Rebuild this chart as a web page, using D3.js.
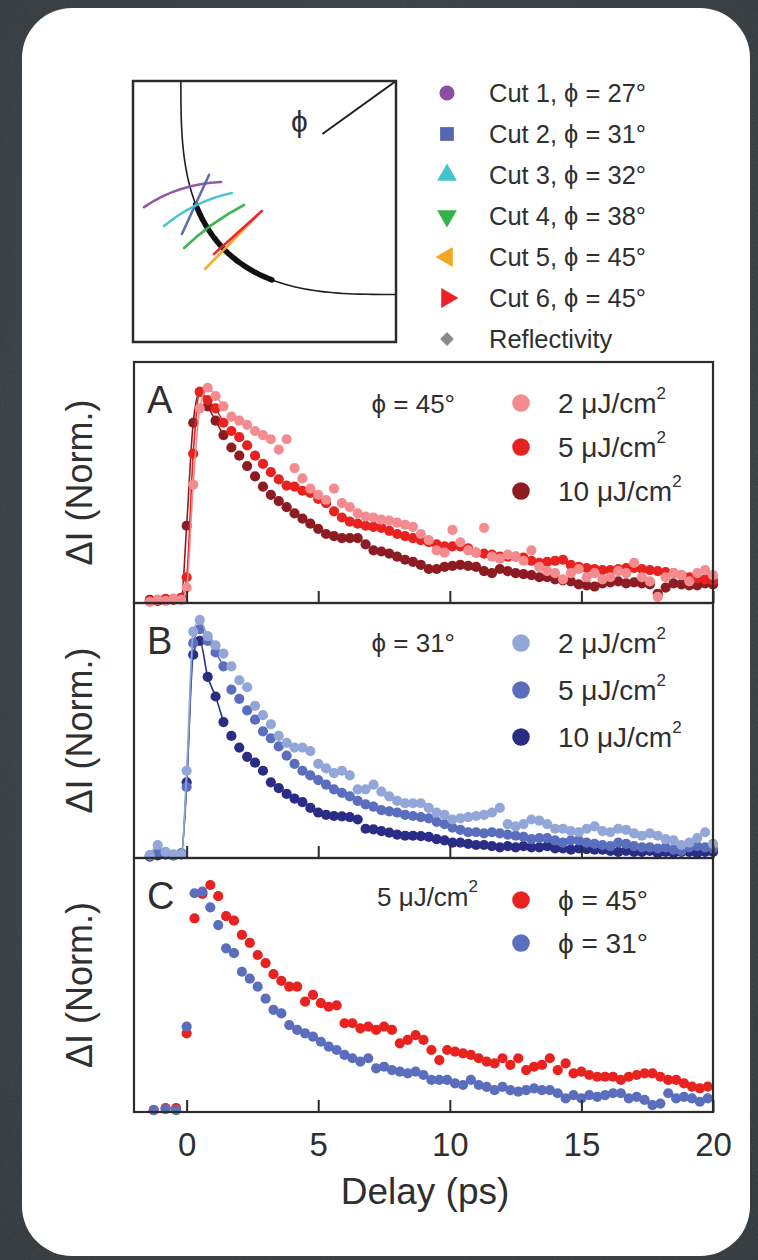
<!DOCTYPE html>
<html>
<head>
<meta charset="utf-8">
<script src="https://cdn.jsdelivr.net/npm/d3@7"></script>
<style>
  html, body { margin: 0; padding: 0; background: #394145; }
  svg { display: block; }
  text { font-family: "Liberation Sans", Arial, Helvetica, sans-serif; fill: #2f2f2f; }
</style>
</head>
<body>
<svg id="fig" width="758" height="1260"></svg>
<script>
// ---------------------------------------------------------------------------
// Data
// ---------------------------------------------------------------------------

// Pump-probe delays (ps) for the fluence series (panels A and B)
const delaysAB = [
  -1.4, -1.1, -0.8, -0.5, -0.2, 0, 0.25, 0.5,
  0.8, 1.1, 1.4, 1.7, 2.0, 2.3, 2.6, 2.9, 3.2, 3.5,
  3.8, 4.1, 4.4, 4.7, 5.0, 5.3, 5.6, 5.9, 6.2, 6.5,
  6.8, 7.1, 7.4, 7.7, 8.0, 8.3, 8.6, 8.9, 9.2, 9.5,
  9.8, 10.1, 10.4, 10.7, 11.0, 11.3, 11.6, 11.9, 12.2, 12.5,
  12.8, 13.1, 13.4, 13.7, 14.0, 14.3, 14.6, 14.9, 15.2, 15.5,
  15.8, 16.1, 16.4, 16.7, 17.0, 17.3, 17.6, 17.9, 18.2, 18.5,
  18.8, 19.1, 19.4, 19.7, 20.0
];

// Panel A: phi = 45 deg, normalised dI
const phi45_2uJ = [
  -0.02, -0.01, -0.015, -0.005, -0.01, 0.05, 0.55, 0.92,
  1.02, 0.98, 0.93, 0.88, 0.86, 0.84, 0.81, 0.79, 0.77, 0.72,
  0.77, 0.63, 0.58, 0.53, 0.50, 0.475, 0.53, 0.46, 0.44, 0.41,
  0.395, 0.39, 0.38, 0.375, 0.365, 0.355, 0.345, 0.31, 0.28, 0.23,
  0.22, 0.33, 0.27, 0.23, 0.22, 0.34, 0.20, 0.19, 0.21, 0.20,
  0.18, 0.23, 0.15, 0.13, 0.12, 0.09, 0.12, 0.14, 0.10, 0.12,
  0.09, 0.10, 0.13, 0.12, 0.17, 0.10, 0.08, 0.005, 0.10, 0.12,
  0.11, 0.08, 0.12, 0.135, 0.11
];
const phi45_5uJ = [
  -0.015, -0.01, -0.005, -0.01, 0.0, 0.10, 0.70, 1.0,
  0.96, 0.92, 0.85, 0.81, 0.78, 0.74, 0.69, 0.65, 0.61, 0.575,
  0.545, 0.54, 0.52, 0.51, 0.48, 0.46, 0.42, 0.39, 0.37, 0.36,
  0.35, 0.345, 0.34, 0.325, 0.31, 0.30, 0.29, 0.28, 0.27, 0.26,
  0.25, 0.25, 0.25, 0.24, 0.22, 0.215, 0.21, 0.20, 0.20, 0.20,
  0.195, 0.18, 0.17, 0.175, 0.18, 0.185, 0.16, 0.15, 0.145, 0.14,
  0.135, 0.135, 0.14, 0.145, 0.145, 0.14, 0.135, 0.13, 0.125, 0.12,
  0.11, 0.10, 0.095, 0.09, 0.085
];
const phi45_10uJ = [
  -0.01, -0.015, -0.01, -0.005, 0.0, 0.35, 0.85, 1.0,
  0.93, 0.86, 0.79, 0.73, 0.69, 0.64, 0.59, 0.54, 0.50, 0.47,
  0.44, 0.41, 0.385, 0.36, 0.335, 0.31, 0.30, 0.29, 0.29, 0.29,
  0.26, 0.23, 0.225, 0.215, 0.20, 0.185, 0.175, 0.16, 0.14, 0.14,
  0.15, 0.155, 0.16, 0.155, 0.15, 0.13, 0.12, 0.14, 0.13, 0.12,
  0.115, 0.11, 0.10, 0.10, 0.09, 0.085, 0.08, 0.065, 0.06, 0.055,
  0.07, 0.075, 0.08, 0.07, 0.075, 0.07, 0.065, 0.02, 0.05, 0.07,
  0.065, 0.06, 0.06, 0.07, 0.065
];

// Panel B: phi = 31 deg, normalised dI
const phi31_2uJ = [
  -0.015, 0.03, 0.0, -0.01, -0.01, 0.35, 0.95, 1.0,
  0.93, 0.89, 0.855, 0.80, 0.74, 0.71, 0.63, 0.59, 0.55, 0.50,
  0.47, 0.45, 0.45, 0.435, 0.38, 0.36, 0.34, 0.35, 0.33, 0.27,
  0.27, 0.29, 0.26, 0.24, 0.22, 0.21, 0.21, 0.21, 0.19, 0.17,
  0.16, 0.14, 0.145, 0.15, 0.155, 0.16, 0.17, 0.19, 0.12, 0.11,
  0.12, 0.14, 0.135, 0.12, 0.10, 0.10, 0.09, 0.085, 0.10, 0.11,
  0.09, 0.085, 0.10, 0.095, 0.08, 0.07, 0.08, 0.07, 0.055, 0.05,
  0.03, 0.04, 0.06, 0.085, 0.035
];
const phi31_5uJ = [
  -0.015, -0.005, -0.01, -0.015, -0.005, 0.28, 0.90, 0.96,
  0.91, 0.86, 0.80, 0.70, 0.66, 0.61, 0.57, 0.52, 0.49, 0.455,
  0.415, 0.38, 0.35, 0.33, 0.31, 0.29, 0.27, 0.255, 0.24, 0.22,
  0.205, 0.195, 0.18, 0.175, 0.17, 0.16, 0.155, 0.15, 0.145, 0.13,
  0.12, 0.105, 0.095, 0.085, 0.085, 0.08, 0.085, 0.08, 0.075, 0.07,
  0.065, 0.055, 0.06, 0.06, 0.05, 0.04, 0.05, 0.05, 0.04, 0.035,
  0.03, 0.025, 0.04, 0.035, 0.025, 0.02, 0.02, 0.015, 0.02, 0.01,
  0.005, 0.02, 0.025, 0.02, 0.015
];
const phi31_10uJ = [
  -0.02, -0.015, -0.01, -0.015, -0.01, 0.30, 0.85, 0.91,
  0.755, 0.67, 0.56, 0.50, 0.45, 0.41, 0.385, 0.35, 0.30, 0.275,
  0.25, 0.23, 0.215, 0.19, 0.17, 0.16, 0.155, 0.153, 0.15, 0.14,
  0.10, 0.097, 0.09, 0.083, 0.075, 0.07, 0.07, 0.068, 0.065, 0.055,
  0.05, 0.04, 0.04, 0.035, 0.03, 0.03, 0.025, 0.02, 0.025, 0.02,
  0.025, 0.02, 0.02, 0.025, 0.015, 0.015, 0.01, 0.015, 0.012, 0.01,
  0.01, 0.005, 0.0, 0.005, 0.0, 0.0, 0.005, -0.005, 0.0, -0.005,
  0.0, 0.0, -0.005, 0.0, 0.0
];

// Panel C: 5 uJ/cm^2, two cut angles
const delaysC = [
  -1.25, -0.8, -0.4,
  0, 0.3, 0.6, 0.9, 1.2, 1.5, 1.8, 2.1, 2.4, 2.7,
  3.0, 3.3, 3.6, 3.9, 4.2, 4.5, 4.8, 5.1, 5.4, 5.7,
  6.0, 6.3, 6.6, 6.9, 7.2, 7.5, 7.8, 8.1, 8.4, 8.7,
  9.0, 9.3, 9.6, 9.9, 10.2, 10.5, 10.8, 11.1, 11.4, 11.7,
  12.0, 12.3, 12.6, 12.9, 13.2, 13.5, 13.8, 14.1, 14.4, 14.7,
  15.0, 15.3, 15.6, 15.9, 16.2, 16.5, 16.8, 17.1, 17.4, 17.7,
  18.0, 18.3, 18.6, 18.9, 19.2, 19.5, 19.8
];
const fluence5_phi45 = [
  -0.01, 0.0, 0.0,
  0.335, 0.85, 0.96, 1.0, 0.95, 0.86, 0.84, 0.776, 0.74, 0.686,
  0.65, 0.60, 0.57, 0.544, 0.544, 0.477, 0.507, 0.47, 0.454, 0.46,
  0.38, 0.38, 0.357, 0.365, 0.35, 0.365, 0.35, 0.29, 0.305, 0.327,
  0.305, 0.26, 0.215, 0.26, 0.253, 0.245, 0.238, 0.223, 0.208, 0.20,
  0.223, 0.193, 0.223, 0.17, 0.185, 0.193, 0.223, 0.17, 0.20, 0.155,
  0.163, 0.148, 0.14, 0.14, 0.14, 0.126, 0.14, 0.148, 0.155, 0.155,
  0.14, 0.126, 0.126, 0.11, 0.096, 0.088, 0.096
];
const fluence5_phi31 = [
  -0.01, -0.005, -0.01,
  0.365, 0.963, 0.97, 0.90, 0.82, 0.716, 0.694, 0.611, 0.58, 0.544,
  0.49, 0.44, 0.424, 0.372, 0.35, 0.335, 0.32, 0.297, 0.275, 0.26,
  0.238, 0.223, 0.208, 0.223, 0.178, 0.185, 0.17, 0.163, 0.155, 0.163,
  0.148, 0.126, 0.126, 0.126, 0.11, 0.103, 0.126, 0.103, 0.095, 0.08,
  0.095, 0.08, 0.073, 0.08, 0.088, 0.08, 0.08, 0.066, 0.043, 0.058,
  0.043, 0.058, 0.05, 0.058, 0.066, 0.066, 0.043, 0.05, 0.036, 0.013,
  0.02, 0.066, 0.043, 0.05, 0.043, 0.028, 0.043
];

const xTicks = [0, 5, 10, 15, 20];
const fluenceLabels = ["2", "5", "10"];

// Cuts through the Fermi surface (inset, zone units 0..1, M point at (1,1))
const cutNames = ["Cut 1, ϕ = 27°", "Cut 2, ϕ = 31°", "Cut 3, ϕ = 32°", "Cut 4, ϕ = 38°",
                  "Cut 5, ϕ = 45°", "Cut 6, ϕ = 45°", "Reflectivity"];
const cutStart = [[0.042, 0.517], [0.186, 0.414], [0.118, 0.444], [0.194, 0.360], [0.274, 0.280], [0.308, 0.337]];
const cutEnd   = [[0.335, 0.613], [0.289, 0.640], [0.376, 0.571], [0.422, 0.525], [0.471, 0.483], [0.490, 0.502]];
const cutBend  = [0.022, 0.0, 0.018, 0.01, 0.0, 0.0];
const fermiRadius = 0.818;
const fermiExponent = 3;
const reflectivityArc = [26, 64]; // degrees along the contour

// ---------------------------------------------------------------------------
// Styling
// ---------------------------------------------------------------------------
const cutColors = ["#8c4fa3", "#5467b0", "#43c2cf", "#33b44a", "#f6a623", "#ec2028", "#8a8a8a"];
const redShades = ["#f48b8e", "#e8221f", "#8c1b22"];
const blueShades = ["#93a6d8", "#5a6ebd", "#2b2c86"];
const axisColor = "#2b2b2b";
const riseWindow = 1.4; // ps: the guide line follows the onset and peak only

const svg = d3.select("#fig");

// backdrop (grainy slate) and card
const defs = svg.append("defs");
const bg = defs.append("radialGradient").attr("id", "bg").attr("cx", "50%").attr("cy", "45%").attr("r", "75%");
bg.append("stop").attr("offset", "0%").attr("stop-color", "#42494d");
bg.append("stop").attr("offset", "100%").attr("stop-color", "#2f3538");
const grain = defs.append("filter").attr("id", "grain").attr("x", 0).attr("y", 0).attr("width", "100%").attr("height", "100%");
grain.append("feTurbulence").attr("type", "fractalNoise").attr("baseFrequency", 0.75).attr("numOctaves", 2).attr("seed", 3);
grain.append("feColorMatrix").attr("type", "matrix")
  .attr("values", "0 0 0 0 0.5  0 0 0 0 0.55  0 0 0 0 0.58  0 0 0 0.35 0");
svg.append("rect").attr("width", 758).attr("height", 1260).attr("fill", "url(#bg)");
svg.append("rect").attr("width", 758).attr("height", 1260).attr("filter", "url(#grain)").attr("opacity", 0.35);
svg.append("rect").attr("x", 22).attr("y", 8).attr("width", 728).attr("height", 1248)
  .attr("rx", 50).attr("fill", "#ffffff");

// ---------------------------------------------------------------------------
// Inset: Fermi surface with cut positions
// ---------------------------------------------------------------------------
const inset = { left: 133, right: 396, top: 81, bottom: 342 };
const kx = d3.scaleLinear().domain([0, 1]).range([inset.left, inset.right]);
const ky = d3.scaleLinear().domain([0, 1]).range([inset.bottom, inset.top]);
const gi = svg.append("g");

function contourPoint(deg) {
  const t = deg * Math.PI / 180;
  const c = Math.pow(Math.cos(t), 2 / fermiExponent);
  const s = Math.pow(Math.sin(t), 2 / fermiExponent);
  return [1 - fermiRadius * c, 1 - fermiRadius * s];
}
const contourLine = d3.line().x(d => kx(d[0])).y(d => ky(d[1])).curve(d3.curveBasis);
gi.append("path")
  .attr("d", contourLine(d3.range(0, 90.01, 1).map(contourPoint)))
  .attr("fill", "none").attr("stroke", "#1e1e1e").attr("stroke-width", 1.6);
gi.append("path")
  .attr("d", contourLine(d3.range(reflectivityArc[0], reflectivityArc[1] + 0.01, 1).map(contourPoint)))
  .attr("fill", "none").attr("stroke", "#111").attr("stroke-width", 5.5).attr("stroke-linecap", "round");

cutStart.forEach((p0, i) => {
  const p1 = cutEnd[i];
  const mx = (p0[0] + p1[0]) / 2, my = (p0[1] + p1[1]) / 2;
  const dx = p1[0] - p0[0], dy = p1[1] - p0[1];
  const len = Math.hypot(dx, dy);
  const cx = mx - dy / len * cutBend[i] * 2, cy = my + dx / len * cutBend[i] * 2;
  gi.append("path")
    .attr("d", `M${kx(p0[0])},${ky(p0[1])} Q${kx(cx)},${ky(cy)} ${kx(p1[0])},${ky(p1[1])}`)
    .attr("fill", "none").attr("stroke", cutColors[i]).attr("stroke-width", 2.6)
    .attr("stroke-linecap", "round").attr("opacity", 0.95);
});

// angle marker
gi.append("line")
  .attr("x1", kx(1)).attr("y1", ky(1)).attr("x2", kx(0.72)).attr("y2", ky(0.797))
  .attr("stroke", "#1e1e1e").attr("stroke-width", 2);
gi.append("text").attr("x", kx(0.633)).attr("y", ky(0.845)).attr("dy", "0.35em")
  .attr("text-anchor", "middle").style("font-size", "30px").text("ϕ");

gi.append("rect")
  .attr("x", inset.left).attr("y", inset.top)
  .attr("width", inset.right - inset.left).attr("height", inset.bottom - inset.top)
  .attr("fill", "none").attr("stroke", axisColor).attr("stroke-width", 2.5);

// symbol legend for the cuts
const symbolShapes = [
  { type: d3.symbolCircle, size: 180, rot: 0 },
  { type: d3.symbolSquare, size: 190, rot: 0 },
  { type: d3.symbolTriangle, size: 170, rot: 0 },
  { type: d3.symbolTriangle, size: 170, rot: 180 },
  { type: d3.symbolTriangle, size: 170, rot: -90 },
  { type: d3.symbolTriangle, size: 170, rot: 90 },
  { type: d3.symbolSquare, size: 95, rot: 45 }
];
const legendRow = d3.scalePoint().domain(d3.range(cutNames.length)).range([93, 339]);
const gl = svg.append("g");
cutNames.forEach((name, i) => {
  const y = legendRow(i);
  const s = symbolShapes[i];
  gl.append("path")
    .attr("d", d3.symbol().type(s.type).size(s.size)())
    .attr("transform", `translate(447,${y}) rotate(${s.rot})`)
    .attr("fill", cutColors[i]);
  gl.append("text").attr("x", 489).attr("y", y).attr("dy", "0.36em")
    .style("font-size", "25.5px").text(name);
});

// ---------------------------------------------------------------------------
// Transient panels
// ---------------------------------------------------------------------------
const plotLeft = 134, plotRight = 713;
const x = d3.scaleLinear().domain([-2, 20]).range([plotLeft, plotRight]);

const panels = [
  {
    letter: "A", top: 362, bottom: 603, domain: [-0.025, 1.145], delays: delaysAB, joined: true,
    series: [
      { values: phi45_10uJ, color: redShades[2] },
      { values: phi45_5uJ, color: redShades[1] },
      { values: phi45_2uJ, color: redShades[0] }
    ],
    note: [{ t: "ϕ = 45°" }], noteX: 455, noteY: 404,
    legendY: [403, 447, 491],
    legend: fluenceLabels.map((f, i) => ({ color: redShades[i], main: f + " μJ/cm", sup: "2" }))
  },
  {
    letter: "B", top: 603, bottom: 858, domain: [-0.026, 1.073], delays: delaysAB, joined: true,
    series: [
      { values: phi31_10uJ, color: blueShades[2] },
      { values: phi31_5uJ, color: blueShades[1] },
      { values: phi31_2uJ, color: blueShades[0] }
    ],
    note: [{ t: "ϕ = 31°" }], noteX: 455, noteY: 643,
    legendY: [643, 690, 737],
    legend: fluenceLabels.map((f, i) => ({ color: blueShades[i], main: f + " μJ/cm", sup: "2" }))
  },
  {
    letter: "C", top: 858, bottom: 1112, domain: [-0.018, 1.121], delays: delaysC, joined: false,
    series: [
      { values: fluence5_phi45, color: redShades[1] },
      { values: fluence5_phi31, color: blueShades[1] }
    ],
    note: [{ t: "5 μJ/cm", sup: "2" }], noteX: 478, noteY: 897,
    legendY: [900, 943],
    legend: [
      { color: redShades[1], main: "ϕ = 45°" },
      { color: blueShades[1], main: "ϕ = 31°" }
    ]
  }
];

panels.forEach((p, pi) => {
  const y = d3.scaleLinear().domain(p.domain).range([p.bottom, p.top]);
  const g = svg.append("g");

  // data: guide line through the onset for A and B, markers for all
  p.series.forEach(s => {
    const pts = p.delays.map((t, i) => [t, s.values[i]]);
    if (p.joined) {
      g.append("path")
        .attr("d", d3.line().x(d => x(d[0])).y(d => y(d[1])).curve(d3.curveMonotoneX)(pts.filter(d => d[0] <= riseWindow)))
        .attr("fill", "none").attr("stroke", s.color).attr("stroke-width", 1.6);
    }
    g.selectAll(null).data(pts).join("circle")
      .attr("cx", d => x(d[0])).attr("cy", d => y(d[1])).attr("r", 5.1)
      .attr("fill", s.color);
  });

  // frame
  g.append("rect")
    .attr("x", plotLeft).attr("y", p.top)
    .attr("width", plotRight - plotLeft).attr("height", p.bottom - p.top)
    .attr("fill", "none").attr("stroke", axisColor).attr("stroke-width", 2.2);

  // bottom axis with inward ticks
  const last = pi === panels.length - 1;
  const axis = d3.axisBottom(x).tickValues(xTicks).tickSizeInner(-12).tickSizeOuter(0)
    .tickPadding(21).tickFormat(last ? d3.format("d") : () => "");
  const ga = g.append("g").attr("transform", `translate(0,${p.bottom})`).call(axis);
  ga.select(".domain").remove();
  ga.selectAll(".tick line").attr("stroke", axisColor).attr("stroke-width", 2);
  ga.selectAll(".tick text").style("font-size", "33px").attr("fill", "#2f2f2f")
    .style("font-family", '"Liberation Sans", Arial, sans-serif');

  // panel letter
  g.append("text").attr("x", 147).attr("y", p.top + 51).style("font-size", "38px").text(p.letter);

  // annotation
  const note = g.append("text").attr("x", p.noteX).attr("y", p.noteY).attr("dy", "0.36em")
    .attr("text-anchor", "end").style("font-size", "26px");
  p.note.forEach(n => {
    note.append("tspan").text(n.t);
    if (n.sup) note.append("tspan").attr("dy", -14).style("font-size", "17px").text(n.sup);
  });

  // legend
  p.legend.forEach((l, i) => {
    const ly = p.legendY[i];
    g.append("circle").attr("cx", 521).attr("cy", ly).attr("r", 8.8).attr("fill", l.color);
    const t = g.append("text").attr("x", 558).attr("y", ly).attr("dy", "0.36em").style("font-size", "28px");
    t.append("tspan").text(l.main);
    if (l.sup) t.append("tspan").attr("dy", -14).style("font-size", "17px").text(l.sup);
  });

  // y label
  g.append("text")
    .attr("transform", `translate(79,${(p.top + p.bottom) / 2}) rotate(-90)`)
    .attr("text-anchor", "middle").attr("dy", "0.36em")
    .style("font-size", "36px").text("ΔI (Norm.)");
});

// x label
svg.append("text").attr("x", 425).attr("y", 1204).attr("text-anchor", "middle")
  .style("font-size", "37px").text("Delay (ps)");
</script>
</body>
</html>
